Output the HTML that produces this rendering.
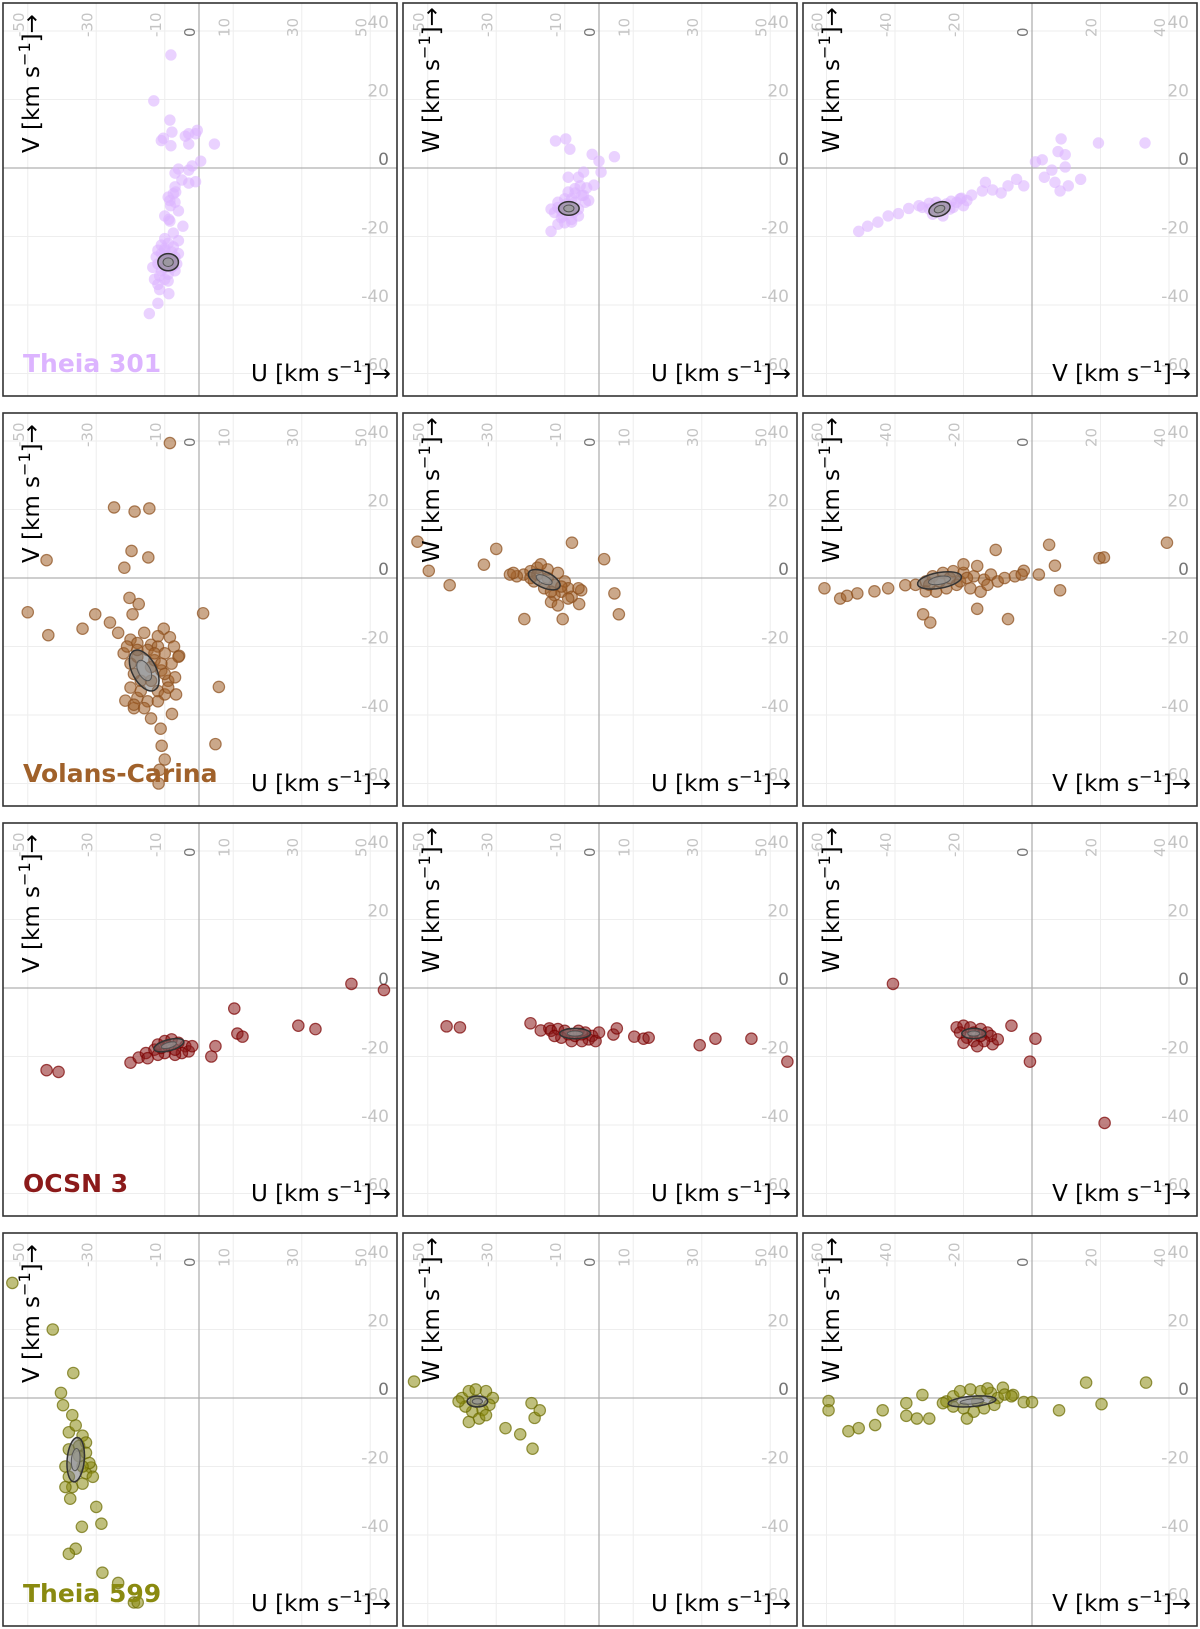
<!DOCTYPE html>
<html><head><meta charset="utf-8"><style>
html,body{margin:0;padding:0;background:#fff}
svg{display:block;font-family:"DejaVu Sans","Liberation Sans",sans-serif}
</style></head><body>
<svg id="fig" width="1200" height="1629" viewBox="0 0 1200 1629" xmlns="http://www.w3.org/2000/svg"></svg>
<script>
// ---- data (km/s) ----
const groups = ["Theia 301","Volans-Carina","OCSN 3","Theia 599"];
const groupColors = ["#dcb4ff","#a0612a","#8b1a1a","#8a8a10"];
const groupStroke = ["#dcb4ff","#8b4f1c","#7a0000","#6b6b00"];
const xTicksUW = [-50,-30,-10,0,10,30,50];
const xTicksV = [-60,-40,-20,0,20,40];
const yTicks = [40,20,0,-20,-40,-60];

const t301_uv_x = [-8.2,-13.2,-8.5,-7.9,-10.4,-11,-8.2,-4,-3,-0.5,-1,-3,4.5,0.5,-2,-3,-6,-7,-5,-3,-1,-7,-6.8,-7.5,-9,-8.5,-7,-8.3,-6,-10,-8.8,-8.5,-4.7,-7.5,-10,-6,-11.5,-8.8,-12,-14.5,-11,-10,-8,-7,-6.5,-7,-9,-11,-12,-12.5,-10,-8,-9,-11,-7.5,-13,-12,-10,-10.5,-9.5,-8.5,-7.5,-11.5,-12,-6,-13.5,-9,-10];
const t301_uv_y = [33,19.6,14,10.5,8.7,8,6.5,9.3,10,11,10,7,7,2,0.6,-0.6,-0.3,-1.5,-3.5,-4.4,-4,-5.5,-7,-7.5,-8.5,-9.5,-10,-11,-12.5,-14,-15,-15.5,-17,-19,-20.6,-21.2,-35.5,-36.7,-39.5,-42.5,-25,-24,-24.5,-26,-28,-30,-31,-30,-28,-26,-29,-29,-22,-22.5,-23,-32.5,-34,-32.5,-27,-25.5,-26.5,-28.5,-31.5,-24,-25,-29,-33,-23.5];
const t301_uw_x = [-12.7,-9.7,-8.5,-2,0,4.5,0.6,-4.5,-9,-3.6,-1.5,-14,-8,-12,-6,-5.5,-4.5,-3,-7,-12,-10,-7,-6,-6,-8,-11,-13,-12,-9,-7,-5,-10,-4,-14,-11,-9.5,-7.5,-10.5,-8];
const t301_uw_y = [7.9,8.5,5.5,4,2,3.3,-1.2,-1.2,-2.7,-5.8,-5,-18.5,-15.8,-16.4,-2.7,-5.2,-8,-9.5,-7.3,-10,-9,-10,-12,-14,-15,-14.5,-13,-11.5,-7,-6,-8,-16,-10,-12,-12.5,-10.5,-13,-14,-9];
const t301_vw_x = [-50.6,-48,-45,-42,-39,-36,-33,-30,-23.6,-20.6,-17.6,-14.5,-13.6,-11.5,-9,-7,-4.5,-2.4,1,3,5.8,7.6,8.5,9.7,6.7,8.2,10.6,14.2,19.4,33,9.7,3.6,-30,-28,-25,-24,-26,-29,-22,-20,-32,-19,-27,-23,-21];
const t301_vw_y = [-18.5,-17,-15.8,-14,-13.3,-11.8,-11,-10.3,-9.7,-8.8,-7.9,-6.7,-4.2,-6.4,-7.3,-5.2,-3.3,-5.2,1.8,2.4,-0.6,4.8,8.5,0.3,-4.2,-6.7,-5.2,-3.3,7.3,7.3,3.9,-2.7,-12,-10,-10.5,-12,-14,-13.5,-10,-11,-11.5,-9.5,-11,-11.5,-9];

const volc_uv_x = [-8.5,-24.8,-18.8,-14.5,-44.5,-19.7,-14.8,-21.8,-50,-44,-34,-30.3,1.2,5.8,4.8,-20.3,-17.6,-19.4,-26,-23.6,-10.3,-8.5,-7.3,-5.8,-19,-11.2,-10.9,-10,-11.5,-11.8,-21.5,-14,-6.7,-7.9,-20,-18,-14,-12,-10,-22,-20,-18,-13,-11,-9,-12,-15,-18,-20,-8,-6,-21,-17,-14,-10,-16,-12,-19,-15,-13,-11,-17,-19,-9,-14,-12,-16,-10,-18,-7];
const volc_uv_y = [39.4,20.6,19.4,20.3,5.2,7.9,6,3,-10,-16.7,-14.8,-10.6,-10.3,-31.8,-48.5,-5.8,-7.6,-10.6,-13,-16,-14.8,-17.3,-20,-22.7,-38,-44,-49,-53,-56,-60,-35.8,-41,-34,-39.7,-18,-19,-19.5,-20,-22,-22,-25,-23,-24,-27,-30,-33,-36,-35,-32,-25,-23,-20,-30,-30,-34,-16,-17,-28,-21,-22,-25,-33,-37,-32,-26,-36,-38,-28,-21,-29];
const volc_uw_x = [-53,-49.7,-43.6,-33.6,-30,-7.9,1.5,-21.8,-10.6,-5.8,-5.2,4.5,5.8,-22,-20,-18,-15,-12,-10,-9,-11,-13,-16,-19,-24,-8,-6,-14,-12,-17,-26,-25,-15,-13,-11,-18,-20,-9,-14];
const volc_uw_y = [10.6,2.1,-2.1,3.9,8.5,10.3,5.5,-12,-12,-7.6,-3.6,-4.5,-10.6,1,2,3,2.5,1.5,-1,-3,-4,-5,-3,-1,0.5,-5.5,-3,-7,-8,4,1,1.5,0,-2,-2.5,1,0,-6,-4];
const volc_vw_x = [-60.6,-56,-54,-51,-46,-42,-37,-31,5,6.7,8.2,19.7,21,39.4,-31.8,-29.7,-16,-7,-10.6,2,-2.4,-34,-31,-29,-26,-23,-20,-17,-14,-12,-10,-8,-5,-22,-25,-18,-15,-28,-3,-20,-16,-27,-24,-21,-19,-13,-30];
const volc_vw_y = [-3,-6,-5.2,-4.5,-3.9,-3,-2.1,-3.9,9.7,3.6,-3.6,5.8,6,10.3,-10.6,-13,-9,-12,8.2,1,2.1,-2,-1,0.5,1.5,2,1.5,0.5,-0.5,1,-1,0,0.5,-2,-3,-3,-4,-4,1,4,3.5,-1,0,-1,0,-2,-2];

const ocsn_uv_x = [-44.5,-41,-20,-17.6,-15.5,3.6,4.8,10.3,11.2,12.7,29,34,44.5,54,-13,-12,-10,-8,-6,-4,-3,-5,-7,-10,-12,-2,-15,-9,-7,-11];
const ocsn_uv_y = [-24,-24.5,-21.8,-20.3,-19,-20,-17,-6,-13.3,-14.2,-11,-12,1.2,-0.6,-18,-16.5,-15.5,-15,-16,-17,-18.5,-19,-19.5,-19,-19.5,-17,-20.5,-17,-18,-17.5];
const ocsn_uw_x = [-44.5,-40.6,-20,-17,-14.5,4.2,5.2,10.3,13,14.5,29.4,34,44.5,55,-14,-12,-10,-6,-4,-2,-3,-5,-8,-11,-13,-1,0,-9,-7,-5];
const ocsn_uw_y = [-11.2,-11.5,-10.3,-12.4,-11.8,-13.6,-11.8,-14.2,-14.8,-14.5,-16.7,-14.8,-14.8,-21.5,-12.5,-12,-12.5,-12.5,-13,-14,-15,-15.5,-15.5,-14.5,-14,-15.5,-13,-13.5,-14,-13.5];
const ocsn_vw_x = [-40.6,-6,-11.5,1,-0.6,21.2,-22,-20,-18,-15,-13,-12,-14,-17,-19,-21,-16,-10,-20,-17,-15];
const ocsn_vw_y = [1.2,-11,-16.4,-14.8,-21.5,-39.4,-11.5,-11,-11.5,-12,-13,-14,-15.5,-15.5,-14.5,-13,-17,-15,-16,-13,-14];

const t599_uv_x = [-54.5,-42.7,-36.7,-40.3,-39.7,-30,-28.5,-34.2,-36,-38,-28.2,-23.6,-19,-17.9,-37.6,-31.5,-38,-36,-34,-33,-33,-32,-33,-34,-37,-38,-39,-38,-35,-34,-37,-31,-39,-35];
const t599_uv_y = [33.6,20,7.3,1.5,-2.1,-31.8,-36.7,-37.6,-44,-45.5,-51,-54,-59.7,-59.7,-29.4,-20.3,-10,-8,-11,-13,-16,-19,-22,-25,-26,-23,-20,-15,-14,-20,-5,-23,-26,-17];
const t599_uw_x = [-54,-27.3,-23,-19.4,-18.8,-17.3,-19.7,-40,-38,-36,-33,-31,-32,-34,-37,-39,-41,-35,-38,-33,-36];
const t599_uw_y = [4.8,-8.8,-10.6,-14.8,-5.8,-3.6,-1.5,0,2,2.5,2,0,-2,-3.5,-4,-2.5,-1,-6,-7,-5,-1];
const t599_vw_x = [-59.4,-59.4,-53.6,-50.6,-45.8,-43.6,-36.7,-36.7,-33.6,-30,-32,-2.4,0,7.9,15.8,20.3,33.3,-8.5,-5.5,-25,-23,-21,-18,-15,-12,-10,-11,-14,-17,-20,-23,-26,-8,-6,-19,-13,-16];
const t599_vw_y = [-0.9,-3.6,-9.7,-8.8,-7.9,-3.6,-1.5,-5.2,-6,-6,0.9,-1.2,-1.2,-3.6,4.5,-1.8,4.5,3,0.9,-1,0.5,2,2.5,2,1.5,0,-2,-3,-4,-3,-2.5,-1.5,1,0.5,-6,2.8,-1];

// ellipse: [cx, cy] / [rx, ry] in km/s, angle in degrees
const ellCenters = [[-9,-27.5],[-8.8,-11.8],[-27,-12],[-16,-27],[-16,-0.5],[-27,-0.7],[-8.8,-16.7],[-7,-13.3],[-17,-13.3],[-36,-18],[-35.5,-1],[-17.5,-1]];
const ellRadii = [[3,2.5],[3,2],[3.2,2],[6.5,3.5],[5,2.3],[6.5,2.3],[4.5,1.6],[4.5,1.5],[3.5,1.5],[2.5,6.5],[3,1.6],[7,1.5]];
const ellAngles = [0,0,-20,62,25,-10,-15,0,0,5,0,-5];

const panelXs = [t301_uv_x,t301_uw_x,t301_vw_x,volc_uv_x,volc_uw_x,volc_vw_x,ocsn_uv_x,ocsn_uw_x,ocsn_vw_x,t599_uv_x,t599_uw_x,t599_vw_x];
const panelYs = [t301_uv_y,t301_uw_y,t301_vw_y,volc_uv_y,volc_uw_y,volc_vw_y,ocsn_uv_y,ocsn_uw_y,ocsn_vw_y,t599_uv_y,t599_uw_y,t599_vw_y];
const xLabels = ["U","U","V"];
const yLabels = ["V","W","W"];
const panelKinds = ["uv","uw","vw"];

// ---- drawing ----
const NS = "http://www.w3.org/2000/svg";
const svg = document.getElementById("fig");
const S = 3.425;
function mk(tag, attrs, parent){const e=document.createElementNS(NS,tag);for(const k in attrs)e.setAttribute(k,attrs[k]);(parent||svg).appendChild(e);return e;}

for(let r=0;r<4;r++){
  for(let c=0;c<3;c++){
    const idx=r*3+c;
    const left=3+400*c, top=3+410*r, W=394, H=393;
    const ox = left + (c===2?229:196), oy = top+165;
    const sx = v=>ox+v*S, sy = v=>oy-v*S;
    const g = mk("g",{});
    
    
    const clipId="clip"+idx;
    const cp=mk("clipPath",{id:clipId},g); mk("rect",{x:left,y:top,width:W,height:H},cp);
    const inner=mk("g",{"clip-path":"url(#"+clipId+")"},g);
    const xt = c===2?xTicksV:xTicksUW;
    xt.forEach(t=>{ if(t!==0){ const l=mk("line",{x1:sx(t),x2:sx(t),y1:top,y2:top+H,stroke:"#eeeeee","stroke-width":1},inner);
       }});
    yTicks.forEach(t=>{ if(t!==0){ const l=mk("line",{x1:left,x2:left+W,y1:sy(t),y2:sy(t),stroke:"#eeeeee","stroke-width":1},inner);
       }});
    const zx=mk("line",{x1:sx(0),x2:sx(0),y1:top,y2:top+H,stroke:"#b0b0b0","stroke-width":1.3},inner);
     
    const zy=mk("line",{x1:left,x2:left+W,y1:sy(0),y2:sy(0),stroke:"#b0b0b0","stroke-width":1.3},inner);
     
    xt.forEach(t=>{ const tx=mk("text",{transform:"translate("+(sx(t)-4)+","+(top+34)+") rotate(-90)","font-size":15,fill:t===0?"#777":"#c4c4c4","text-anchor":"start"},inner);
      tx.textContent = t<0?("-"+(-t)):String(t);
       });
    yTicks.forEach(t=>{ const ty=mk("text",{x:left+386,y:sy(t)-3,"font-size":17,fill:t===0?"#777":"#c4c4c4","text-anchor":"end"},inner);
      ty.textContent = t<0?("-"+(-t)):String(t);
       });
    const xs=panelXs[idx], ys=panelYs[idx];
    for(let i=0;i<xs.length;i++){
      const p=mk("circle",{cx:sx(xs[i]),cy:sy(ys[i]),r:5.7,fill:groupColors[r],"fill-opacity":r===0?0.6:0.55,stroke:groupStroke[r],"stroke-opacity":r===0?0:0.7,"stroke-width":1.2},inner);
       
    }
    const ec=ellCenters[idx], er=ellRadii[idx], ea=ellAngles[idx];
    const e1=mk("ellipse",{cx:sx(ec[0]),cy:sy(ec[1]),rx:er[0]*S,ry:er[1]*S,transform:"rotate("+ea+" "+sx(ec[0])+" "+sy(ec[1])+")",fill:"#777","fill-opacity":0.55,stroke:"#333","stroke-width":1.5},inner);
     
    const e2=mk("ellipse",{cx:sx(ec[0]),cy:sy(ec[1]),rx:er[0]*S*0.5,ry:er[1]*S*0.5,transform:"rotate("+ea+" "+sx(ec[0])+" "+sy(ec[1])+")",fill:"#999","fill-opacity":0.7,stroke:"#555","stroke-width":1},inner);
     
    const yl=mk("text",{transform:"translate("+(left+36)+","+(top+150)+") rotate(-90)","font-size":23,fill:"#000"},inner);
    yl.innerHTML = yLabels[c]+" [km s<tspan dy='-9' font-size='16'>−1</tspan><tspan dy='9'>]</tspan>→";
     
    const xl=mk("text",{x:left+388,y:top+378,"font-size":23,fill:"#000","text-anchor":"end"},inner);
    xl.innerHTML = xLabels[c]+" [km s<tspan dy='-9' font-size='16'>−1</tspan><tspan dy='9'>]</tspan>→";
     
    if(c===0){
      const gl=mk("text",{x:left+20,y:top+369,"font-size":25,"font-weight":"bold",fill:groupColors[r]},inner);
      gl.textContent=groups[r];
       
    }
    const fr=mk("rect",{x:left,y:top,width:W,height:H,fill:"none",stroke:"#333","stroke-width":1.6},g);
     
  }
}
</script>
</body></html>
